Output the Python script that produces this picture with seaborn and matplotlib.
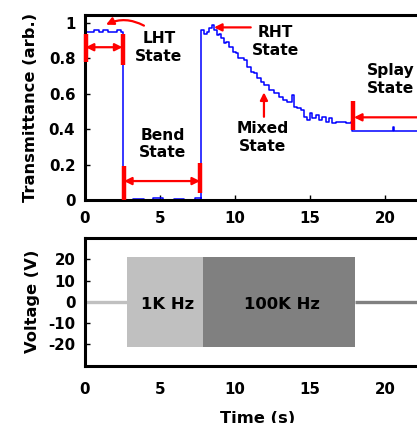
import matplotlib
matplotlib.use("Agg")
import matplotlib.pyplot as plt
import seaborn as sns
import pandas as pd

# transmittance trace
time_s = [0, 0.3, 0.6, 0.9, 1.2, 1.5, 1.8, 2.1, 2.4, 2.55,
          2.56, 3.2, 3.9, 4.5, 5.2, 5.9, 6.6, 7.3, 7.7,
          7.71, 7.75, 7.93, 8.11, 8.27, 8.49, 8.6, 8.78, 8.93, 9.09, 9.27,
          9.42, 9.6, 9.89, 10.05, 10.2, 10.38, 10.6, 10.82, 11.05, 11.27,
          11.49, 11.71, 11.93, 12.27, 12.6, 12.93, 13.22, 13.49, 13.82, 13.93,
          14.15, 14.38, 14.6, 14.82, 14.98, 15.15, 15.38, 15.6, 15.82, 16.05,
          16.27, 16.45, 16.71, 17.05, 17.38, 17.71, 17.78, 18.6, 19.5, 20.5,
          20.6, 21.4, 23.0]
transmittance = [0.95, 0.95, 0.96, 0.95, 0.96, 0.95, 0.95, 0.96, 0.95, 0.95,
                 0.0, 0.005, 0.0, 0.01, 0.0, 0.005, 0.0, 0.01, 0.0,
                 0.95, 0.96, 0.94, 0.95, 0.97, 0.99, 0.96, 0.93, 0.94, 0.915, 0.885,
                 0.895, 0.866, 0.838, 0.829, 0.80, 0.80, 0.79, 0.753, 0.725, 0.716,
                 0.688, 0.668, 0.65, 0.621, 0.603, 0.584, 0.565, 0.555, 0.593, 0.527,
                 0.518, 0.508, 0.47, 0.452, 0.49, 0.462, 0.48, 0.452, 0.47, 0.442,
                 0.462, 0.433, 0.442, 0.442, 0.437, 0.442, 0.39, 0.39, 0.39, 0.414,
                 0.39, 0.39, 0.39]

# applied voltage
off_before = [0, 2.8]
off_after = [18.0, 23.0]
block_start = [2.8, 7.87]
block_end = [7.87, 18.0]
block_amp = [21.3, 21.3]
block_label = ["1K Hz", "100K Hz"]
block_color = ["#c0c0c0", "#808080"]

x_ticks = [0, 5, 10, 15, 20]
t_ticks = [0, 0.2, 0.4, 0.6, 0.8, 1]
t_ticklabels = ["0", "0.2", "0.4", "0.6", "0.8", "1"]
v_ticks = [-20, -10, 0, 10, 20]

sns.set_style("ticks")
plt.rcParams["font.family"] = ["DejaVu Sans"]
plt.rcParams["font.weight"] = "bold"
plt.rcParams["axes.labelweight"] = "bold"
plt.rcParams["axes.unicode_minus"] = False
for k in ["text.color", "axes.labelcolor", "xtick.color", "ytick.color", "axes.edgecolor"]:
    plt.rcParams[k] = "black"

W, H = 417, 423
fig = plt.figure(figsize=(W / 100, H / 100), dpi=100)
ax1 = fig.add_axes([85 / W, 1 - 200 / H, 345 / W, 185 / H])
ax2 = fig.add_axes([85 / W, 1 - 365.7 / H, 345 / W, 128 / H])

df = pd.DataFrame({"t": time_s, "T": transmittance})
sns.lineplot(data=df, x="t", y="T", ax=ax1, color="#0000ff", lw=1.1,
             drawstyle="steps-post", estimator=None, sort=False)

red = "#ff0000"
def bar(x, y0, y1):
    ax1.plot([x, x], [y0, y1], color=red, lw=3.2, solid_capstyle="butt",
             clip_on=False, zorder=5)

def arrow(xy_head, xy_tail, style="-|>", rad=0.0):
    ax1.annotate("", xy=xy_head, xytext=xy_tail,
                 arrowprops=dict(arrowstyle=style, color=red, lw=1.6,
                                 mutation_scale=11, shrinkA=0, shrinkB=0,
                                 connectionstyle="arc3,rad=%s" % rad),
                 annotation_clip=False, zorder=5)

bar(0.05, 0.78, 0.94)
bar(2.5, 0.76, 0.94)
arrow((2.5, 0.863), (0.05, 0.863), "<|-|>")
bar(2.6, 0.0, 0.194)
bar(7.67, 0.04, 0.207)
arrow((7.67, 0.107), (2.6, 0.107), "<|-|>")
arrow((1.4, 0.99), (3.93, 0.985), rad=0.25)
arrow((8.6, 0.975), (11.05, 0.975))
arrow((11.93, 0.608), (11.93, 0.47))
bar(17.87, 0.395, 0.561)
arrow((17.93, 0.467), (22.5, 0.467))

fs = 11.2
ax1.text(4.93, 0.862, "LHT\nState", ha="center", va="center", fontsize=fs, fontweight="bold")
ax1.text(5.2, 0.316, "Bend\nState", ha="center", va="center", fontsize=fs, fontweight="bold")
ax1.text(12.67, 0.895, "RHT\nState", ha="center", va="center", fontsize=fs, fontweight="bold")
ax1.text(11.83, 0.353, "Mixed\nState", ha="center", va="center", fontsize=fs, fontweight="bold")
ax1.text(20.4, 0.68, "Splay\nState", ha="center", va="center", fontsize=fs, fontweight="bold")

ax1.set_xlim(0, 23)
ax1.set_ylim(0, 1.045)
ax1.set_xticks(x_ticks)
ax1.set_yticks(t_ticks)
ax1.set_yticklabels(t_ticklabels)
ax1.set_xlabel("")
ax1.set_ylabel("Transmittance (arb.)", fontsize=11.7, fontweight="bold", labelpad=8)

ax2.plot(off_before, [0, 0], color=block_color[0], lw=2.4, solid_capstyle="butt")
ax2.plot(off_after, [0, 0], color=block_color[1], lw=2.4, solid_capstyle="butt")
for s, e, a, lab, c in zip(block_start, block_end, block_amp, block_label, block_color):
    ax2.fill_between([s, e], [-a, -a], [a, a], color=c, lw=0)
    ax2.text((s + e) / 2 + 0.2, -1.4, lab, ha="center", va="center",
             fontsize=11.8, fontweight="bold", color="black")
ax2.set_xlim(0, 23)
ax2.set_ylim(-30.3, 30.3)
ax2.set_xticks(x_ticks)
ax2.set_yticks(v_ticks)
ax2.set_ylabel("Voltage (V)", fontsize=11.7, fontweight="bold", labelpad=6)
ax2.set_xlabel("Time (s)", fontsize=11.7, fontweight="bold", labelpad=10)

for ax in (ax1, ax2):
    for sp in ax.spines.values():
        sp.set_linewidth(2.2)
        sp.set_color("black")
    ax.tick_params(direction="in", length=3.5, width=1.0, labelsize=10.8, pad=7)
ax2.tick_params(axis="x", length=0, pad=12)
ax1.tick_params(axis="x", pad=8)

fig.savefig("out.png", dpi=100)
